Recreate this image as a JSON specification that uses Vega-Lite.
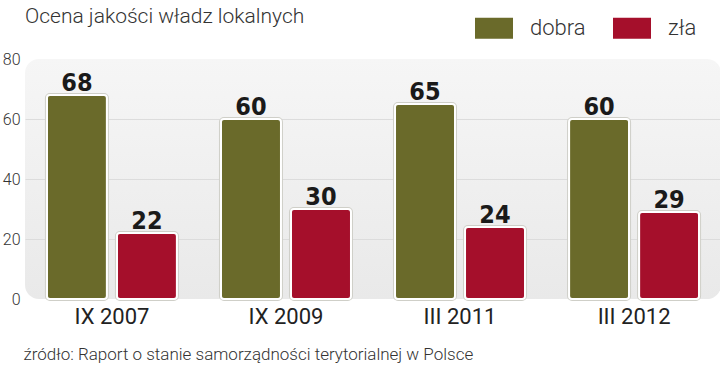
{
  "$schema": "https://vega.github.io/schema/vega-lite/v6.json",
  "width": 696,
  "height": 240,
  "autosize": "none",
  "padding": {"left": 25, "top": 59, "right": 0, "bottom": 66},
  "background": "white",
  "config": {
    "view": {
      "stroke": null,
      "cornerRadius": 14,
      "fill": {"gradient": "linear", "x1": 0, "y1": 0, "x2": 0, "y2": 1,
        "stops": [{"offset": 0, "color": "#f6f6f6"}, {"offset": 1, "color": "#e9e9e9"}]}
    },
    "font": "Roboto"
  },
  "title": {
    "text": "Ocena jakości władz lokalnych",
    "anchor": "start",
    "frame": "group",
    "offset": -20,
    "font": "Roboto",
    "fontWeight": 300,
    "fontSize": 21,
    "color": "#333333"
  },
  "data": {
    "values": [
      {"okres": "IX 2007", "ocena": "dobra", "procent": 68},
      {"okres": "IX 2007", "ocena": "zła", "procent": 22},
      {"okres": "IX 2009", "ocena": "dobra", "procent": 60},
      {"okres": "IX 2009", "ocena": "zła", "procent": 30},
      {"okres": "III 2011", "ocena": "dobra", "procent": 65},
      {"okres": "III 2011", "ocena": "zła", "procent": 24},
      {"okres": "III 2012", "ocena": "dobra", "procent": 60},
      {"okres": "III 2012", "ocena": "zła", "procent": 29}
    ]
  },
  "encoding": {
    "x": {
      "field": "okres", "type": "nominal", "sort": null,
      "scale": {"paddingInner": 0.253, "paddingOuter": 0.126},
      "axis": {
        "domain": false, "ticks": false, "labelAngle": 0,
        "labelFontSize": 22, "labelColor": "#222222", "labelFont": "Roboto", "labelFontWeight": 400,
        "labelPadding": 7,
        "title": "źródło: Raport o stanie samorządności terytorialnej w Polsce",
        "titleX": -2, "titleY": 60, "titleAlign": "left", "titleAnchor": "start",
        "titleBaseline": "alphabetic", "titleFontSize": 17, "titleFontWeight": 300,
        "titleColor": "#333333", "titleFont": "Roboto"
      }
    },
    "xOffset": {
      "field": "ocena", "type": "nominal", "sort": ["dobra", "zła"],
      "scale": {"paddingInner": 0.143, "paddingOuter": 0}
    },
    "y": {
      "field": "procent", "type": "quantitative",
      "scale": {"domain": [0, 80], "nice": false},
      "axis": {
        "values": [0, 20, 40, 60, 80], "domain": false, "ticks": false, "title": null,
        "labelFontSize": 16, "labelColor": "#333333", "labelFontWeight": 300, "labelPadding": 5,
        "gridColor": {"condition": {"test": "datum.value == 0 || datum.value == 80", "value": "transparent"}, "value": "#dcdcdc"},
        "gridWidth": 1
      }
    }
  },
  "layer": [
    {
      "mark": {"type": "bar", "cornerRadius": 3, "stroke": "#cfcfc8", "strokeWidth": 4},
      "encoding": {
        "fill": {
          "field": "ocena", "type": "nominal",
          "scale": {"domain": ["dobra", "zła"], "range": ["#6a6a2a", "#a50f2b"]},
          "legend": {
            "title": null, "orient": "none", "direction": "horizontal",
            "legendX": 448, "legendY": -52,
            "symbolType": "M-1,-0.575H1V0.575H-1Z", "symbolSize": 1600,
            "symbolStrokeColor": "white", "symbolStrokeWidth": 2,
            "labelFontSize": 22, "labelFontWeight": 300, "labelColor": "#333333",
            "labelOffset": 15, "columnPadding": 22
          }
        }
      }
    },
    {
      "mark": {"type": "bar", "cornerRadius": 3, "stroke": "white", "strokeWidth": 2},
      "encoding": {
        "fill": {"field": "ocena", "type": "nominal"}
      }
    },
    {
      "mark": {"type": "text", "font": "DejaVu Sans Condensed, Roboto", "fontWeight": "bold", "fontSize": 25, "dy": -4, "baseline": "alphabetic", "color": "#1a1a1a"},
      "encoding": {
        "text": {"field": "procent", "type": "quantitative"}
      }
    }
  ]
}
